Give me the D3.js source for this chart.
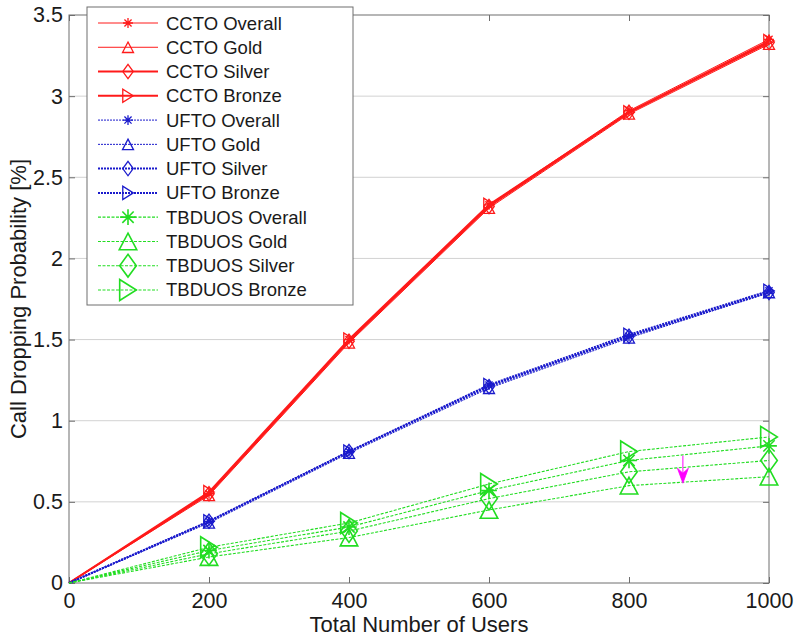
<!DOCTYPE html>
<html><head><meta charset="utf-8">
<script src="https://cdn.jsdelivr.net/npm/d3@7"></script>
<style>
html,body{margin:0;padding:0;background:#fff;}
svg{display:block;font-family:"Liberation Sans",Arial,sans-serif;}
</style></head>
<body>
<svg id="chart" width="795" height="640"></svg>
<script>
// ---- data ----
const users = [0, 200, 400, 600, 800, 1000];
const xTicks = [0, 200, 400, 600, 800, 1000];
const xTickLabels = ["0", "200", "400", "600", "800", "1000"];
const yTicks = [0, 0.5, 1, 1.5, 2, 2.5, 3, 3.5];
const yTickLabels = ["0", "0.5", "1", "1.5", "2", "2.5", "3", "3.5"];

const cctoOverall = [0, 0.55, 1.50, 2.33, 2.91, 3.35];
const cctoGold    = [0, 0.54, 1.48, 2.31, 2.89, 3.32];
const cctoSilver  = [0, 0.55, 1.49, 2.32, 2.90, 3.33];
const cctoBronze  = [0, 0.56, 1.50, 2.33, 2.90, 3.34];

const uftoOverall = [0, 0.38, 0.81, 1.22, 1.52, 1.80];
const uftoGold    = [0, 0.37, 0.80, 1.20, 1.51, 1.79];
const uftoSilver  = [0, 0.38, 0.81, 1.21, 1.52, 1.79];
const uftoBronze  = [0, 0.38, 0.81, 1.22, 1.53, 1.80];

const tbduosOverall = [0, 0.20, 0.345, 0.57, 0.755, 0.845];
const tbduosGold    = [0, 0.16, 0.28, 0.45, 0.60, 0.655];
const tbduosSilver  = [0, 0.18, 0.32, 0.52, 0.685, 0.755];
const tbduosBronze  = [0, 0.22, 0.37, 0.61, 0.81, 0.90];

const seriesNames = ["CCTO Overall","CCTO Gold","CCTO Silver","CCTO Bronze",
  "UFTO Overall","UFTO Gold","UFTO Silver","UFTO Bronze",
  "TBDUOS Overall","TBDUOS Gold","TBDUOS Silver","TBDUOS Bronze"];
const seriesValues = [cctoOverall, cctoGold, cctoSilver, cctoBronze,
  uftoOverall, uftoGold, uftoSilver, uftoBronze,
  tbduosOverall, tbduosGold, tbduosSilver, tbduosBronze];

const arrowX = 877;
const arrowY = [0.785, 0.615];

const xTitle = "Total Number of Users";
const yTitle = "Call Dropping Probability [%]";

// ---- styles ----
const red = "#ff1a1a", blue = "#1a1acc", green = "#22dd22";
const styles = [
  {c:red, w:1.0, dash:null, m:"star", s:1.1},
  {c:red, w:1.0, dash:null, m:"tri", s:1.1},
  {c:red, w:2.0, dash:null, m:"dia", s:1.1},
  {c:red, w:2.0, dash:null, m:"triR", s:1.1},
  {c:blue, w:1.0, dash:"2,1", m:"star", s:1.1},
  {c:blue, w:1.0, dash:"2,1", m:"tri", s:1.1},
  {c:blue, w:2.0, dash:"2,1", m:"dia", s:1.1},
  {c:blue, w:2.0, dash:"2,1", m:"triR", s:1.1},
  {c:green, w:1.1, dash:"3,1.5", m:"star", s:1.75},
  {c:green, w:1.1, dash:"3,1.5", m:"tri", s:1.75},
  {c:green, w:1.1, dash:"3,1.5", m:"dia", s:1.75},
  {c:green, w:1.1, dash:"3,1.5", m:"triR", s:1.75}
];

function markerPath(type, s) {
  let w, h;
  if (type === "star") {
    const r = 4.5 * s, d = r * 0.72;
    return `M${-r},0L${r},0M0,${-r}L0,${r}M${-d},${-d}L${d},${d}M${-d},${d}L${d},${-d}`;
  }
  if (type === "tri") {
    w = 10 * s; h = 9.5 * s;
    return `M0,${-h/2}L${w/2},${h/2}L${-w/2},${h/2}Z`;
  }
  if (type === "dia") {
    w = 9.5 * s; h = 13 * s;
    return `M0,${-h/2}L${w/2},0L0,${h/2}L${-w/2},0Z`;
  }
  // triangle right
  w = 9.5 * s; h = 12 * s;
  return `M${w/2},0L${-w/2},${-h/2}L${-w/2},${h/2}Z`;
}

// ---- layout ----
const svg = d3.select("#chart");
const L = 69, R = 769, T = 15, B = 583;
const x = d3.scaleLinear().domain([0, 1000]).range([L, R]);
const y = d3.scaleLinear().domain([0, 3.5]).range([B, T]);
const axisColor = "#6e6e6e";

svg.append("rect").attr("x", 0).attr("y", 0).attr("width", 795).attr("height", 640).attr("fill", "#fff");

// grid (horizontal only)
svg.append("g").selectAll("line").data(yTicks.filter(d => d > 0 && d < 3.5)).join("line")
  .attr("x1", L).attr("x2", R).attr("y1", d => y(d)).attr("y2", d => y(d))
  .attr("stroke", "#d2d2d2").attr("stroke-width", 1);

// axes with inward ticks
const tickLen = 6;
const gx = svg.append("g").attr("transform", `translate(0,${B})`)
  .call(d3.axisBottom(x).tickValues(xTicks).tickSizeInner(-tickLen).tickSizeOuter(0)
    .tickFormat((d, i) => xTickLabels[i]));
const gxTop = svg.append("g").attr("transform", `translate(0,${T})`)
  .call(d3.axisTop(x).tickValues(xTicks).tickSizeInner(-tickLen).tickSizeOuter(0).tickFormat(""));
const gy = svg.append("g").attr("transform", `translate(${L},0)`)
  .call(d3.axisLeft(y).tickValues(yTicks).tickSizeInner(-tickLen).tickSizeOuter(0)
    .tickFormat((d, i) => yTickLabels[i]));
const gyR = svg.append("g").attr("transform", `translate(${R},0)`)
  .call(d3.axisRight(y).tickValues(yTicks).tickSizeInner(-tickLen).tickSizeOuter(0).tickFormat(""));
[gx, gxTop, gy, gyR].forEach(g => {
  g.select(".domain").remove();
  g.selectAll("line").attr("stroke", axisColor);
  g.selectAll("text").attr("fill", "#1a1a1a").style("font-size", "21.5px")
    .style("font-family", '"Liberation Sans", Arial, sans-serif');
});
gx.selectAll("text").attr("dy", "0.71em").attr("y", 10);
gy.selectAll("text").attr("x", -6);

// box
svg.append("rect").attr("x", L).attr("y", T).attr("width", R - L).attr("height", B - T)
  .attr("fill", "none").attr("stroke", axisColor).attr("stroke-width", 1);

// series
const line = d3.line().x((d, i) => x(users[i])).y(d => y(d));
const plot = svg.append("g");
seriesValues.forEach((vals, k) => {
  const st = styles[k];
  plot.append("path").attr("d", line(vals)).attr("fill", "none")
    .attr("stroke", st.c).attr("stroke-width", st.w)
    .attr("stroke-dasharray", st.dash);
  plot.append("g").selectAll("path").data(vals.map((v, i) => [users[i], v]).filter(d => d[0] > 0)).join("path")
    .attr("transform", d => `translate(${x(d[0])},${y(d[1])})`)
    .attr("d", markerPath(st.m, st.s))
    .attr("fill", "none").attr("stroke", st.c).attr("stroke-width", st.s > 1.5 ? 1.6 : 1.3);
});

// magenta arrow
const ax = x(arrowX), ay0 = y(arrowY[0]), ay1 = y(arrowY[1]);
svg.append("line").attr("x1", ax).attr("x2", ax).attr("y1", ay0).attr("y2", ay1 - 6)
  .attr("stroke", "#ff00ff").attr("stroke-width", 1);
svg.append("path")
  .attr("d", `M${ax},${ay1}L${ax - 5.5},${ay1 - 15}L${ax},${ay1 - 10}L${ax + 5.5},${ay1 - 15}Z`)
  .attr("fill", "#ff00ff").attr("stroke", "#ff00ff").attr("stroke-width", 0.8);

// axis titles
svg.append("text").attr("x", (L + R) / 2).attr("y", 632).attr("text-anchor", "middle")
  .style("font-size", "22px").attr("fill", "#1a1a1a").text(xTitle);
svg.append("text").attr("transform", `translate(26,${(T + B) / 2}) rotate(-90)`)
  .attr("text-anchor", "middle").style("font-size", "22px").attr("fill", "#1a1a1a").text(yTitle);

// legend
const lg = svg.append("g");
lg.append("rect").attr("x", 87).attr("y", 7).attr("width", 266).attr("height", 298)
  .attr("fill", "#fff").attr("stroke", axisColor).attr("stroke-width", 1);
seriesNames.forEach((name, k) => {
  const st = styles[k];
  const ry = 23 + k * 24.27;
  lg.append("line").attr("x1", 98).attr("x2", 158).attr("y1", ry).attr("y2", ry)
    .attr("stroke", st.c).attr("stroke-width", st.w).attr("stroke-dasharray", st.dash);
  lg.append("path").attr("transform", `translate(128,${ry})`).attr("d", markerPath(st.m, st.s))
    .attr("fill", "none").attr("stroke", st.c).attr("stroke-width", st.s > 1.5 ? 1.6 : 1.3);
  lg.append("text").attr("x", 166).attr("y", ry + 6.5).style("font-size", "18.5px")
    .attr("fill", "#1a1a1a").text(name);
});
</script>
</body></html>
